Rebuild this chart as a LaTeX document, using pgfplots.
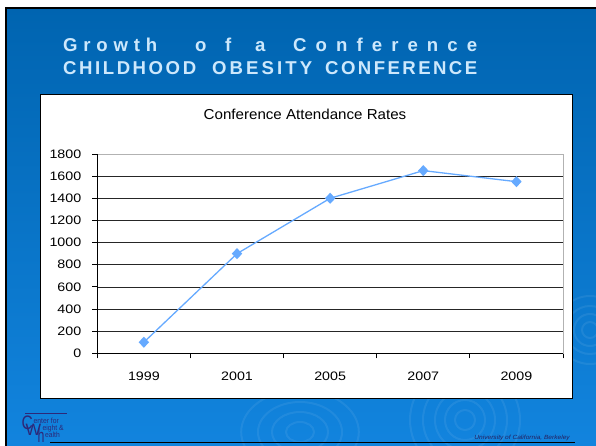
\documentclass[border=0pt]{standalone}
\usepackage{fontspec}
\setmainfont{Liberation Sans}
\usepackage{graphicx}
\usepackage{pgfplots}
\pgfplotsset{compat=1.18}
\definecolor{slidetop}{RGB}{0,100,176}
\definecolor{slidebot}{RGB}{18,132,222}
\definecolor{titlecol}{RGB}{205,232,252}
\definecolor{linecol}{RGB}{102,170,255}
\definecolor{navy}{RGB}{45,40,120}
\newcommand\ls{\hspace{0pt plus 1fil}}
\newcommand\word[3]{\node[anchor=base west,inner sep=0pt,text=titlecol,font=\bfseries\fontsize{18.6}{20}\selectfont] at #1 {\makebox[#2][s]{#3}};}
\begin{document}
\begin{tikzpicture}[x=1pt,y=1pt]
\useasboundingbox (0,0) rectangle (596,-446);
\fill[white] (0,0) rectangle (596,-446);
\shade[top color=slidetop,bottom color=slidebot] (6,-8) rectangle (596,-446);
\draw[black,line width=1.6pt] (6,-446) -- (6,-8) -- (596,-8);
% faint decorative rings
\begin{scope}[white,opacity=0.07,line width=2pt]
\foreach \r in {10,20,30,42,55} {\draw (465,-420) circle (\r);}
\foreach \r in {10,20,30,42} {\draw (300,-432) ellipse ({1.4*\r} and {\r});}
\foreach \r in {8,16,24,34} {\draw (590,-330) circle (\r);}
\end{scope}
% slide title
\word{(63,-51.5)}{94pt}{G\ls r\ls o\ls w\ls t\ls h}
\word{(195,-51.5)}{36pt}{o\ls f}
\word{(255,-51.5)}{10.3pt}{a}
\word{(293,-51.5)}{184pt}{C\ls o\ls n\ls f\ls e\ls r\ls e\ls n\ls c\ls e}
\word{(63,-75)}{133pt}{C\ls H\ls I\ls L\ls D\ls H\ls O\ls O\ls D}
\word{(212,-75)}{100pt}{O\ls B\ls E\ls S\ls I\ls T\ls Y}
\word{(325,-75)}{152pt}{C\ls O\ls N\ls F\ls E\ls R\ls E\ls N\ls C\ls E}
% chart box
\draw[black,line width=1pt,fill=white] (40,-95) rectangle (572,-398);
\node[anchor=base,inner sep=0pt,xscale=1.05,font=\fontsize{14.4}{16}\selectfont] at (305,-119.3) {Conference Attendance Rates};
\begin{axis}[
  at={(97.3pt,-353.3pt)}, anchor=south west,
  scale only axis, width=465.7pt, height=199.3pt,
  xmin=-0.5, xmax=4.5, ymin=0, ymax=1800,
  xtick={-0.5,0.5,...,4.5},
  xticklabels={1999,2001,2005,2007,2009},
  x tick label as interval,
  ytick={0,200,...,1800},
  /pgf/number format/.cd, 1000 sep={}, assume math mode=true, /pgfplots/.cd,
  tick pos=left, tick align=outside,
  major tick length=5pt,
  tick style={black,line width=0.8pt},
  axis line style={draw=gray!60,line width=0.8pt},
  ymajorgrids, grid style={black!85,line width=0.7pt},
  ticklabel style={font=\fontsize{12.3}{13}\selectfont, xscale=1.16},
  yticklabel style={xshift=-6pt},
  xticklabel style={yshift=-10pt},
  clip=false,
]
\addplot[color=linecol,line width=1.3pt,mark=diamond*,mark size=4.6pt,
  mark options={fill=linecol,draw=linecol,xscale=1.25}]
  coordinates {(0,100) (1,900) (2,1400) (3,1650) (4,1550)};
\draw[black,line width=0.8pt] (rel axis cs:0,1) -- (rel axis cs:0,0) -- (rel axis cs:1,0);
\end{axis}
% footer
\draw[black,line width=1pt] (50,-442.7) -- (575,-442.7);
\node[anchor=base east,inner sep=0pt,text=navy!80!black,xscale=1.1,font=\itshape\fontsize{6}{7}\selectfont] at (570,-439.5) {University of California, Berkeley};
\draw[navy,line width=0.5pt] (25,-413) -- (67,-413);
\node[anchor=base west,inner sep=0pt,text=navy] at (21,-429) {%
 \rlap{\fontsize{19.5}{20}\selectfont\scalebox{0.8}[1]{C}}%
 \rlap{\hspace{12pt}\raisebox{6pt}{\fontsize{7.5}{8}\selectfont\scalebox{0.9}[1]{enter for}}}%
 \rlap{\hspace{4pt}\raisebox{-6pt}{\fontsize{16.5}{17}\selectfont W}}%
 \rlap{\hspace{21pt}\raisebox{-1.5pt}{\fontsize{7.5}{8}\selectfont\scalebox{0.9}[1]{eight \&}}}%
 \rlap{\hspace{16pt}\raisebox{-13pt}{\fontsize{19}{19}\selectfont\scalebox{0.65}[1]{h}}}%
 \rlap{\hspace{23.5pt}\raisebox{-8pt}{\fontsize{7.5}{8}\selectfont\scalebox{0.9}[1]{ealth}}}%
 \hspace{46pt}};
\end{tikzpicture}
\end{document}
